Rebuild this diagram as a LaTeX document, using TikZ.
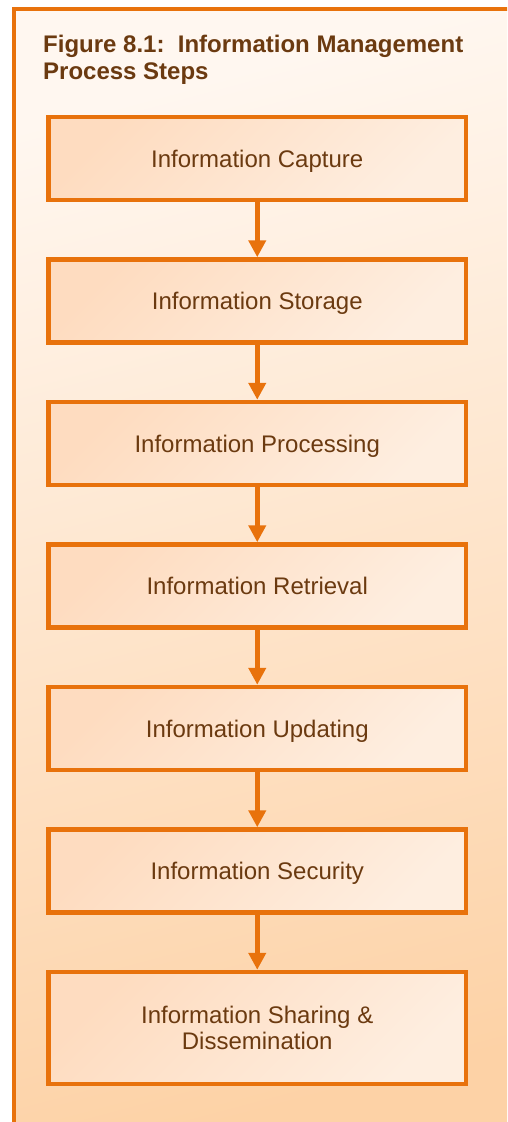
\documentclass[tikz,border=0pt]{standalone}
\usepackage{fontspec}
\setmainfont{Liberation Sans}
\usetikzlibrary{arrows.meta}
\definecolor{frameorange}{HTML}{E8720C}
\definecolor{textbrown}{HTML}{6B3A10}
\definecolor{bglight}{HTML}{FFF7F0}
\definecolor{bgdark}{HTML}{FDD2A6}
\definecolor{boxlight}{HTML}{FEEEE0}
\definecolor{boxdark}{HTML}{FEDCC0}
\tikzset{
  stepbox/.style={draw=frameorange,line width=4.5pt,minimum width=417.5pt,minimum height=83pt,
    top color=boxdark,bottom color=boxlight,shading angle=45,
    text=textbrown,align=center,font=\fontsize{24}{26}\selectfont},
  steparrow/.style={draw=frameorange,line width=5.5pt,-{Triangle[length=17pt,width=17pt]}}
}
\begin{document}
\begin{tikzpicture}[x=1pt,y=-1pt]
    \useasboundingbox(0,0)rectangle(507,1122);
    \clip(0,0)rectangle(507,1122);
    \fill[white](0,0)rectangle(507,1122);
    % outer frame
    \draw[frameorange,line width=4pt,top color=bglight,bottom color=bgdark,shading angle=15](14,9)rectangle(540,1160);
    \node[text=textbrown,anchor=base west,align=left,inner sep=0pt,font=\fontsize{24}{27}\selectfont\bfseries](title)at(43,79){Figure 8.1:\ \ Information Management\\Process Steps};
    % steps
    \node[stepbox,text depth=0pt](capture)at(257.25,158.5){Information Capture};
    \node[stepbox,text depth=0pt](storage)at(257.25,301){Information Storage};
    \node[stepbox,text depth=0pt](processing)at(257.25,443.5){Information Processing};
    \node[stepbox,text depth=0pt](retrieval)at(257.25,586){Information Retrieval};
    \node[stepbox,text depth=0pt](updating)at(257.25,728.5){Information Updating};
    \node[stepbox,text depth=0pt](security)at(257.25,871){Information Security};
    \node[stepbox,minimum height=112pt](sharing)at(257.25,1028){Information Sharing \&\\Dissemination};
    % arrows
    \draw[steparrow](capture)--(storage);
    \draw[steparrow](storage)--(processing);
    \draw[steparrow](processing)--(retrieval);
    \draw[steparrow](retrieval)--(updating);
    \draw[steparrow](updating)--(security);
    \draw[steparrow](security)--(sharing);
\end{tikzpicture}
\end{document}
